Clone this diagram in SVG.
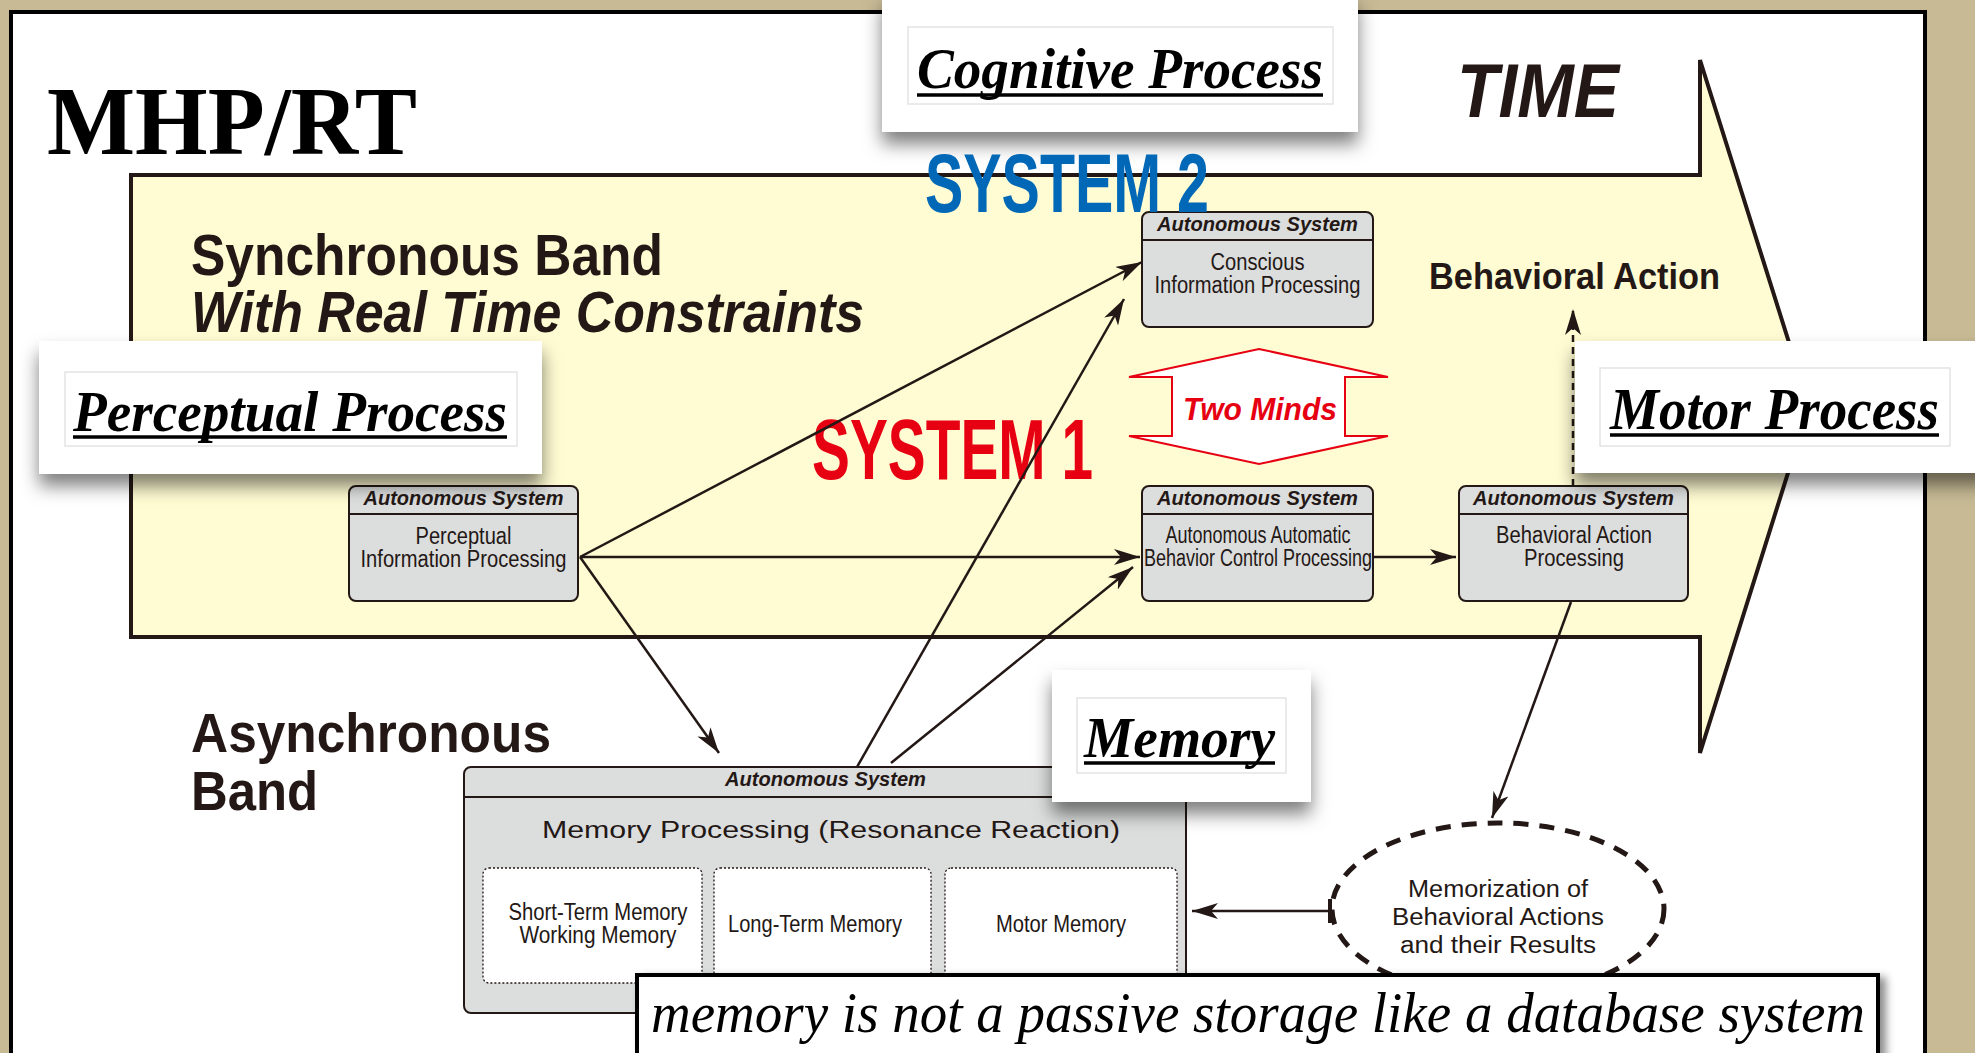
<svg xmlns="http://www.w3.org/2000/svg" width="1975" height="1053" viewBox="0 0 1975 1053">
<defs>
<style>
.sans{font-family:"Liberation Sans",Arial,sans-serif;fill:#231815}
.serif{font-family:"Liberation Serif","Times New Roman",serif;fill:#000}
.bold{font-weight:bold}
.it{font-style:italic}
.node{fill:#dcdddd;stroke:#231815;stroke-width:2}
.div{stroke:#231815;stroke-width:2}
.hdr{font-family:"Liberation Sans",Arial,sans-serif;font-weight:bold;font-style:italic;font-size:21px;fill:#231815;text-anchor:middle}
.body{font-family:"Liberation Sans",Arial,sans-serif;font-size:23px;fill:#231815;text-anchor:middle}
.sub{fill:#fff;stroke:#231815;stroke-width:1.3;stroke-dasharray:2 2}
.edge{stroke:#231815;stroke-width:2.5;fill:none}
.label{fill:#fff}
.inner{fill:#fff;stroke:#e4e4e4;stroke-width:1.5}
.ul{stroke:#000;stroke-width:3.5}
</style>
<marker id="arr" markerUnits="userSpaceOnUse" viewBox="0 0 26 16" refX="26" refY="8" markerWidth="26" markerHeight="16" orient="auto">
<path d="M0,0 L26,8 L0,16 L7,8 Z" fill="#231815"/>
</marker>
<marker id="tee" markerUnits="userSpaceOnUse" viewBox="0 0 4 24" refX="2" refY="12" markerWidth="4" markerHeight="24" orient="auto">
<rect x="0" y="0" width="4" height="24" fill="#231815"/>
</marker>
<filter id="sh" x="-20%" y="-20%" width="140%" height="160%">
<feDropShadow dx="0" dy="12" stdDeviation="9" flood-color="#000" flood-opacity="0.5"/>
</filter>
<filter id="sh2" x="-5%" y="-20%" width="115%" height="160%">
<feDropShadow dx="6" dy="4" stdDeviation="4" flood-color="#000" flood-opacity="0.45"/>
</filter>
</defs>

<!-- background -->
<rect x="0" y="0" width="1975" height="1053" fill="#c7ba95"/>
<rect x="11" y="12" width="1914" height="1070" fill="#fff" stroke="#000" stroke-width="4"/>

<!-- TIME arrow band -->
<path d="M131,175 L1700,175 L1700,60 L1809,406 L1700,753 L1700,637 L131,637 Z" fill="#fffbd2" stroke="#231815" stroke-width="4" stroke-linejoin="miter"/>

<g id="titles">
<text class="serif bold" x="47" y="154" font-size="97" textLength="370" lengthAdjust="spacingAndGlyphs">MHP/RT</text>
<text class="sans bold it" x="1457" y="117" font-size="76" textLength="162" lengthAdjust="spacingAndGlyphs">TIME</text>
<text class="sans bold" x="191" y="275" font-size="58" textLength="472" lengthAdjust="spacingAndGlyphs">Synchronous Band</text>
<text class="sans bold it" x="191" y="332" font-size="58" textLength="673" lengthAdjust="spacingAndGlyphs">With Real Time Constraints</text>
<text class="sans bold" x="1429" y="289" font-size="37" textLength="291" lengthAdjust="spacingAndGlyphs">Behavioral Action</text>
<text class="sans bold" x="191" y="752" font-size="56" textLength="360" lengthAdjust="spacingAndGlyphs">Asynchronous</text>
<text class="sans bold" x="191" y="810" font-size="56" textLength="127" lengthAdjust="spacingAndGlyphs">Band</text>
<text class="sans bold" x="812" y="479" font-size="85" style="fill:#e60012" textLength="281" lengthAdjust="spacingAndGlyphs">SYSTEM 1</text>
</g>

<g id="two-minds">
<path d="M1259,349 L1388,377 L1345,377 L1345,436 L1388,436 L1259,464 L1129,436 L1172,436 L1172,377 L1129,377 Z" fill="#fff" stroke="#e60012" stroke-width="2"/>
<text class="sans bold it" x="1183" y="420" font-size="32" style="fill:#e60012" textLength="154" lengthAdjust="spacingAndGlyphs">Two Minds</text>
</g>

<!-- connectors -->
<g id="connectors">
<line class="edge" x1="580" y1="557" x2="1142" y2="262" marker-end="url(#arr)"/>
<line class="edge" x1="580" y1="557" x2="1140" y2="557" marker-end="url(#arr)"/>
<line class="edge" x1="580" y1="557" x2="719" y2="753" marker-end="url(#arr)"/>
<line class="edge" x1="857" y1="767" x2="1124" y2="299" marker-end="url(#arr)"/>
<line class="edge" x1="891" y1="763" x2="1133" y2="567" marker-end="url(#arr)"/>
<line class="edge" x1="1373" y1="557" x2="1456" y2="557" marker-end="url(#arr)"/>
<line class="edge" x1="1573" y1="486" x2="1573" y2="309" stroke-dasharray="7 5" marker-end="url(#arr)"/>
<line class="edge" x1="1571" y1="602" x2="1492" y2="818" marker-end="url(#arr)"/>
<line class="edge" x1="1330" y1="911" x2="1192" y2="911" marker-start="url(#tee)" marker-end="url(#arr)"/>
</g>

<!-- nodes -->
<g id="perceptual">
<rect class="node" x="349" y="486" width="229" height="115" rx="7"/>
<line class="div" x1="349" y1="514" x2="578" y2="514"/>
<text class="hdr" x="463.5" y="505" textLength="200" lengthAdjust="spacingAndGlyphs">Autonomous System</text>
<text class="body" x="463.5" y="544" textLength="96" lengthAdjust="spacingAndGlyphs">Perceptual</text>
<text class="body" x="463.5" y="567" textLength="206" lengthAdjust="spacingAndGlyphs">Information Processing</text>
</g>

<g id="conscious">
<rect class="node" x="1142" y="212" width="231" height="115" rx="7"/>
<line class="div" x1="1142" y1="240" x2="1373" y2="240"/>
<text class="hdr" x="1257.5" y="231" textLength="201" lengthAdjust="spacingAndGlyphs">Autonomous System</text>
<text class="body" x="1257.5" y="270" textLength="94" lengthAdjust="spacingAndGlyphs">Conscious</text>
<text class="body" x="1257.5" y="293" textLength="206" lengthAdjust="spacingAndGlyphs">Information Processing</text>
</g>

<g id="automatic">
<rect class="node" x="1142" y="486" width="231" height="115" rx="7"/>
<line class="div" x1="1142" y1="514" x2="1373" y2="514"/>
<text class="hdr" x="1257.5" y="505" textLength="201" lengthAdjust="spacingAndGlyphs">Autonomous System</text>
<text class="body" x="1258" y="543" textLength="185" lengthAdjust="spacingAndGlyphs">Autonomous Automatic</text>
<text class="body" x="1258" y="566" textLength="228" lengthAdjust="spacingAndGlyphs">Behavior Control Processing</text>
</g>

<g id="behavioral">
<rect class="node" x="1459" y="486" width="229" height="115" rx="7"/>
<line class="div" x1="1459" y1="514" x2="1688" y2="514"/>
<text class="hdr" x="1573.5" y="505" textLength="201" lengthAdjust="spacingAndGlyphs">Autonomous System</text>
<text class="body" x="1574" y="543" textLength="156" lengthAdjust="spacingAndGlyphs">Behavioral Action</text>
<text class="body" x="1574" y="566" textLength="100" lengthAdjust="spacingAndGlyphs">Processing</text>
</g>

<g id="memory">
<rect class="node" x="464" y="767" width="722" height="246" rx="7"/>
<line class="div" x1="464" y1="797" x2="1186" y2="797"/>
<text class="hdr" x="825.5" y="786" textLength="201" lengthAdjust="spacingAndGlyphs">Autonomous System</text>
<text class="body" x="831" y="838" font-size="34" textLength="578" lengthAdjust="spacingAndGlyphs">Memory Processing (Resonance Reaction)</text>
<rect class="sub" x="483" y="868" width="219" height="115" rx="6"/>
<rect class="sub" x="714" y="868" width="217" height="115" rx="6"/>
<rect class="sub" x="945" y="868" width="232" height="115" rx="6"/>
<text class="body" x="598" y="920" font-size="22" textLength="179" lengthAdjust="spacingAndGlyphs">Short-Term Memory</text>
<text class="body" x="598" y="943" font-size="22" textLength="157" lengthAdjust="spacingAndGlyphs">Working Memory</text>
<text class="body" x="815" y="932" font-size="22" textLength="174" lengthAdjust="spacingAndGlyphs">Long-Term Memory</text>
<text class="body" x="1061" y="932" font-size="22" textLength="130" lengthAdjust="spacingAndGlyphs">Motor Memory</text>
</g>

<g id="memorization">
<ellipse cx="1498" cy="909" rx="166" ry="86" fill="#fff" stroke="#231815" stroke-width="5" stroke-dasharray="15 11"/>
<text class="body" x="1498" y="897" font-size="27" textLength="180" lengthAdjust="spacingAndGlyphs">Memorization of</text>
<text class="body" x="1498" y="925" font-size="27" textLength="212" lengthAdjust="spacingAndGlyphs">Behavioral Actions</text>
<text class="body" x="1498" y="953" font-size="27" textLength="196" lengthAdjust="spacingAndGlyphs">and their Results</text>
</g>

<!-- label boxes -->
<g id="cognitive-label">
<rect class="label" x="882" y="-5" width="476" height="137" filter="url(#sh)"/>
<rect class="inner" x="908" y="27" width="425" height="77"/>
<text class="serif bold it" x="917" y="88" font-size="58" textLength="406" lengthAdjust="spacingAndGlyphs">Cognitive Process</text>
<line class="ul" x1="917" y1="95" x2="1323" y2="95"/>
</g>
<text class="sans bold" x="925" y="212" font-size="84" style="fill:#0068b7" textLength="284" lengthAdjust="spacingAndGlyphs">SYSTEM 2</text>

<g id="perceptual-label">
<rect class="label" x="39" y="341" width="503" height="133" filter="url(#sh)"/>
<rect class="inner" x="65" y="372" width="452" height="74"/>
<text class="serif bold it" x="73" y="431" font-size="58" textLength="434" lengthAdjust="spacingAndGlyphs">Perceptual Process</text>
<line class="ul" x1="73" y1="437" x2="507" y2="437"/>
</g>

<g id="memory-label">
<rect class="label" x="1052" y="670" width="259" height="132" filter="url(#sh)"/>
<rect class="inner" x="1077" y="698" width="209" height="75"/>
<text class="serif bold it" x="1084" y="757" font-size="56" textLength="191" lengthAdjust="spacingAndGlyphs">Memory</text>
<line class="ul" x1="1084" y1="763" x2="1275" y2="763"/>
</g>

<g id="motor-label">
<rect class="label" x="1575" y="341" width="420" height="132" filter="url(#sh)"/>
<rect class="inner" x="1600" y="368" width="350" height="78"/>
<text class="serif bold it" x="1610" y="429" font-size="60" textLength="329" lengthAdjust="spacingAndGlyphs">Motor Process</text>
<line class="ul" x1="1610" y1="435" x2="1939" y2="435"/>
</g>

<g id="note">
<rect x="637" y="975" width="1241" height="100" fill="#fff" stroke="#000" stroke-width="4" filter="url(#sh2)"/>
<text class="serif it" x="651" y="1032" font-size="56" textLength="1214" lengthAdjust="spacingAndGlyphs">memory is not a passive storage like a database system</text>
</g>
</svg>
